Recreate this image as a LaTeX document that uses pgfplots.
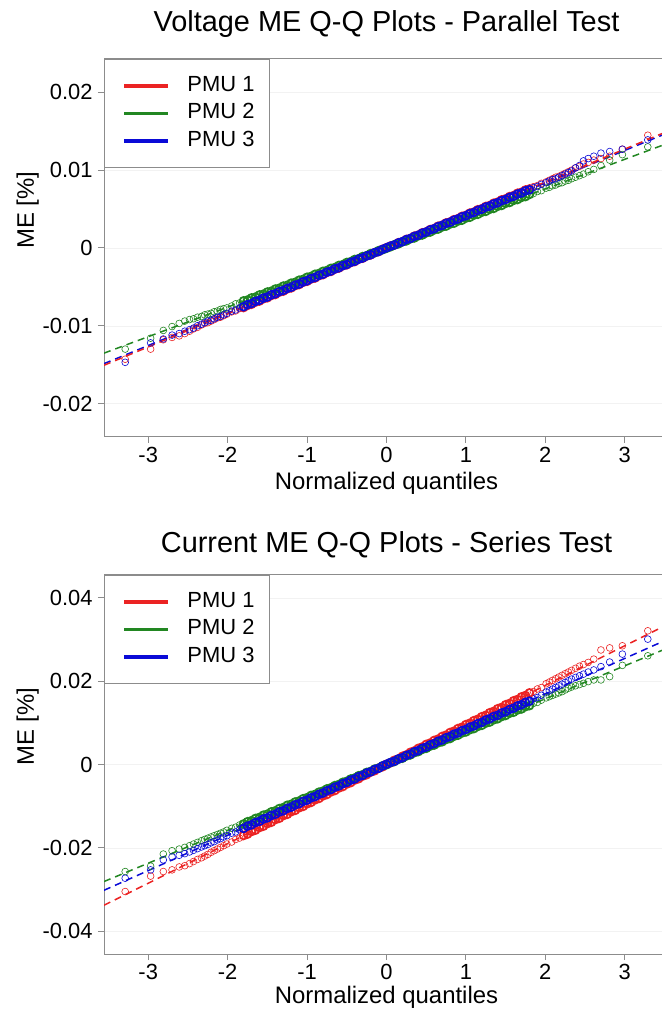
\documentclass[border=0pt]{standalone}
\usepackage{fontspec}
\setmainfont{Liberation Sans}
\usepackage{pgfplots}
\usepackage{pgfplotstable}
\pgfplotsset{compat=1.18}
\definecolor{pmuRed}{RGB}{235,35,35}
\definecolor{pmuGreen}{RGB}{34,135,34}
\definecolor{pmuBlue}{RGB}{10,10,215}
\definecolor{axgray}{RGB}{140,140,140}

% q  r1 g1 b1 (voltage, parallel)  r2 g2 b2 (current, series)
\pgfplotstableread{
q r1 g1 b1 r2 g2 b2
-3.29 -0.0143 -0.0130 -0.0147 -0.0305 -0.0257 -0.0273
-2.97 -0.0130 -0.0116 -0.0122 -0.0268 -0.0244 -0.0253
-2.81 -0.0118 -0.0106 -0.0117 -0.0257 -0.0215 -0.0229
-2.70 -0.0115 -0.0101 -0.0112 -0.0253 -0.0207 -0.0222
-2.61 -0.0113 -0.0097 -0.0110 -0.0246 -0.0203 -0.0218
-2.54 -0.0110 -0.0094 -0.0107 -0.0243 -0.0199 -0.0214
-2.48 -0.0107 -0.0092 -0.0105 -0.0238 -0.0195 -0.0210
-2.43 -0.0104 -0.0091 -0.0103 -0.0233 -0.0191 -0.0206
-2.38 -0.0102 -0.0089 -0.0100 -0.0228 -0.0187 -0.0202
-2.33 -0.0099 -0.0088 -0.0098 -0.0224 -0.0183 -0.0198
-2.29 -0.0097 -0.0086 -0.0096 -0.0220 -0.0180 -0.0195
-2.25 -0.0096 -0.0085 -0.0094 -0.0216 -0.0177 -0.0192
-2.21 -0.0094 -0.0084 -0.0093 -0.0211 -0.0174 -0.0188
-2.17 -0.0092 -0.0082 -0.0091 -0.0207 -0.0171 -0.0185
-2.13 -0.0090 -0.0081 -0.0089 -0.0203 -0.0168 -0.0181
-2.09 -0.0089 -0.0079 -0.0088 -0.0199 -0.0165 -0.0178
-2.05 -0.0087 -0.0078 -0.0086 -0.0195 -0.0162 -0.0174
-2.01 -0.0085 -0.0077 -0.0084 -0.0191 -0.0158 -0.0171
-1.95 -0.00822 -0.00746 -0.00812 -0.01862 -0.01532 -0.01648
-1.90 -0.00809 -0.00718 -0.00797 -0.01800 -0.01505 -0.01620
-1.85 -0.00780 -0.00706 -0.00770 -0.01766 -0.01452 -0.01565
-1.80 -0.00766 -0.00680 -0.00755 -0.01705 -0.01428 -0.01534
-1.75 -0.00738 -0.00669 -0.00729 -0.01671 -0.01374 -0.01480
-1.70 -0.00724 -0.00642 -0.00714 -0.01610 -0.01349 -0.01449
-1.65 -0.00696 -0.00631 -0.00687 -0.01576 -0.01295 -0.01395
-1.60 -0.00682 -0.00604 -0.00672 -0.01515 -0.01270 -0.01364
-1.55 -0.00653 -0.00593 -0.00645 -0.01481 -0.01216 -0.01310
-1.50 -0.00640 -0.00566 -0.00630 -0.01420 -0.01191 -0.01280
-1.45 -0.00611 -0.00555 -0.00603 -0.01386 -0.01137 -0.01225
-1.40 -0.00598 -0.00528 -0.00588 -0.01324 -0.01112 -0.01195
-1.35 -0.00568 -0.00517 -0.00561 -0.01291 -0.01058 -0.01140
-1.30 -0.00555 -0.00490 -0.00546 -0.01229 -0.01033 -0.01110
-1.25 -0.00526 -0.00479 -0.00520 -0.01196 -0.00979 -0.01055
-1.20 -0.00513 -0.00452 -0.00505 -0.01134 -0.00954 -0.01025
-1.15 -0.00484 -0.00441 -0.00478 -0.01101 -0.00900 -0.00970
-1.10 -0.00470 -0.00414 -0.00463 -0.01039 -0.00875 -0.00940
-1.05 -0.00441 -0.00403 -0.00436 -0.01006 -0.00821 -0.00885
-1.00 -0.00428 -0.00376 -0.00421 -0.00944 -0.00796 -0.00855
-0.95 -0.00399 -0.00365 -0.00394 -0.00910 -0.00743 -0.00801
-0.90 -0.00386 -0.00338 -0.00379 -0.00849 -0.00717 -0.00770
-0.85 -0.00356 -0.00327 -0.00352 -0.00815 -0.00664 -0.00716
-0.80 -0.00343 -0.00300 -0.00337 -0.00754 -0.00638 -0.00685
-0.75 -0.00314 -0.00289 -0.00311 -0.00720 -0.00585 -0.00631
-0.70 -0.00301 -0.00262 -0.00296 -0.00659 -0.00559 -0.00600
-0.65 -0.00272 -0.00251 -0.00269 -0.00625 -0.00506 -0.00546
-0.60 -0.00258 -0.00224 -0.00254 -0.00564 -0.00480 -0.00515
-0.55 -0.00229 -0.00213 -0.00227 -0.00530 -0.00427 -0.00461
-0.50 -0.00216 -0.00186 -0.00212 -0.00469 -0.00402 -0.00431
-0.45 -0.00187 -0.00175 -0.00185 -0.00435 -0.00348 -0.00376
-0.40 -0.00174 -0.00148 -0.00170 -0.00373 -0.00323 -0.00346
-0.35 -0.00144 -0.00137 -0.00143 -0.00340 -0.00269 -0.00291
-0.30 -0.00131 -0.00110 -0.00128 -0.00278 -0.00244 -0.00261
-0.25 -0.00102 -0.00099 -0.00102 -0.00245 -0.00190 -0.00206
-0.20 -0.00089 -0.00072 -0.00087 -0.00183 -0.00165 -0.00176
-0.15 -0.00060 -0.00061 -0.00060 -0.00150 -0.00111 -0.00121
-0.10 -0.00046 -0.00034 -0.00045 -0.00088 -0.00086 -0.00091
-0.05 -0.00017 -0.00023 -0.00018 -0.00055 -0.00032 -0.00036
0.00 0.00004 -0.00004 0.00003 0.00007 -0.00007 0.00006
0.05 0.00025 0.00015 0.00024 0.00041 0.00046 0.00048
0.10 0.00038 0.00042 0.00039 0.00102 0.00072 0.00079
0.15 0.00068 0.00053 0.00066 0.00136 0.00125 0.00133
0.20 0.00081 0.00080 0.00081 0.00197 0.00151 0.00164
0.25 0.00110 0.00091 0.00108 0.00231 0.00204 0.00218
0.30 0.00123 0.00118 0.00122 0.00292 0.00230 0.00249
0.35 0.00152 0.00129 0.00149 0.00326 0.00283 0.00303
0.40 0.00166 0.00156 0.00164 0.00387 0.00309 0.00334
0.45 0.00195 0.00167 0.00191 0.00421 0.00362 0.00388
0.50 0.00208 0.00194 0.00206 0.00483 0.00388 0.00419
0.55 0.00237 0.00205 0.00233 0.00516 0.00441 0.00473
0.60 0.00250 0.00232 0.00248 0.00578 0.00466 0.00503
0.65 0.00280 0.00243 0.00275 0.00611 0.00520 0.00558
0.70 0.00293 0.00270 0.00290 0.00673 0.00545 0.00588
0.75 0.00322 0.00281 0.00317 0.00706 0.00599 0.00643
0.80 0.00335 0.00308 0.00331 0.00768 0.00624 0.00673
0.85 0.00364 0.00319 0.00358 0.00801 0.00678 0.00728
0.90 0.00378 0.00346 0.00373 0.00863 0.00703 0.00758
0.95 0.00407 0.00357 0.00400 0.00896 0.00757 0.00813
1.00 0.00420 0.00384 0.00415 0.00958 0.00782 0.00843
1.05 0.00449 0.00395 0.00442 0.00992 0.00835 0.00897
1.10 0.00462 0.00422 0.00457 0.01053 0.00861 0.00928
1.15 0.00492 0.00433 0.00484 0.01087 0.00914 0.00982
1.20 0.00505 0.00460 0.00499 0.01148 0.00940 0.01013
1.25 0.00534 0.00471 0.00526 0.01182 0.00993 0.01067
1.30 0.00547 0.00498 0.00540 0.01243 0.01019 0.01098
1.35 0.00576 0.00509 0.00567 0.01277 0.01072 0.01152
1.40 0.00590 0.00536 0.00582 0.01339 0.01098 0.01183
1.45 0.00619 0.00547 0.00609 0.01372 0.01151 0.01237
1.50 0.00632 0.00574 0.00624 0.01434 0.01177 0.01268
1.55 0.00661 0.00585 0.00651 0.01467 0.01230 0.01322
1.60 0.00674 0.00612 0.00666 0.01529 0.01255 0.01353
1.65 0.00704 0.00623 0.00693 0.01562 0.01309 0.01407
1.70 0.00717 0.00650 0.00708 0.01624 0.01334 0.01437
1.75 0.00746 0.00661 0.00735 0.01657 0.01388 0.01492
1.80 0.00759 0.00688 0.00749 0.01719 0.01413 0.01522
1.85 0.00788 0.00699 0.00776 0.01752 0.01467 0.01577
1.90 0.00802 0.00726 0.00791 0.01814 0.01492 0.01607
1.95 0.00831 0.00737 0.00818 0.01847 0.01546 0.01662
2.01 0.0085 0.0077 0.0084 0.0194 0.0160 0.0174
2.05 0.0087 0.0078 0.0086 0.0198 0.0163 0.0177
2.09 0.0089 0.0080 0.0088 0.0202 0.0166 0.0181
2.13 0.0091 0.0081 0.0089 0.0206 0.0169 0.0185
2.17 0.0092 0.0083 0.0091 0.0210 0.0172 0.0189
2.21 0.0094 0.0084 0.0093 0.0214 0.0175 0.0193
2.25 0.0096 0.0086 0.0095 0.0218 0.0179 0.0197
2.29 0.0098 0.0087 0.0097 0.0222 0.0183 0.0201
2.33 0.0100 0.0089 0.0099 0.0226 0.0186 0.0205
2.38 0.0103 0.0091 0.0103 0.0231 0.0189 0.0209
2.43 0.0105 0.0093 0.0106 0.0236 0.0192 0.0213
2.48 0.0108 0.0095 0.0112 0.0240 0.0195 0.0217
2.54 0.0110 0.0098 0.0115 0.0245 0.0199 0.0222
2.61 0.0113 0.0101 0.0118 0.0253 0.0203 0.0227
2.70 0.0115 0.0106 0.0122 0.0275 0.0203 0.0235
2.81 0.0118 0.0113 0.0124 0.0280 0.0211 0.0246
2.97 0.0127 0.0120 0.0127 0.0285 0.0238 0.0265
3.29 0.0145 0.0130 0.0139 0.0321 0.0261 0.0301
}\qqdata

\pgfplotsset{
  qqaxis/.style={
    scale only axis, width=565bp, anchor=south west,
    xmin=-3.557, xmax=3.557,
    scaled y ticks=false, scaled x ticks=false,
    axis line style={axgray, line width=1pt},
    every tick/.style={axgray, line width=1pt},
    tick align=outside, major tick length=6bp,
    xtick pos=left, ytick pos=left,
    xtick={-3,-2,-1,0,1,2,3}, xticklabels={-3,-2,-1,0,1,2,3},
    ymajorgrids, grid style={black!5, line width=0.5pt},
    tick label style={font=\fontsize{22}{25}\selectfont},
    xticklabel style={yshift=-1bp},
    yticklabel style={xshift=-2bp},
    xlabel={Normalized quantiles},
    xlabel style={font=\fontsize{24}{28}\selectfont, at={(axis description cs:0.5,0)}, anchor=base},
    title style={font=\fontsize{29}{33}\selectfont, at={(axis description cs:0.5,1)}, anchor=base},
    ylabel={ME [\%]},
    ylabel style={font=\fontsize{24}{28}\selectfont, at={(axis description cs:-0.1239,0.6)}, anchor=base},
    legend style={at={(axis description cs:0,1)}, anchor=north west, draw=axgray, line width=1pt, fill=white,
      font=\fontsize{22}{25}\selectfont, inner xsep=12bp, inner ysep=13bp, row sep=0.5bp,
      nodes={inner sep=3bp, text height=16bp, text depth=5bp}, cells={anchor=west}},
    legend image code/.code={\path (-8bp,0bp); \fill[#1] (0bp,-1.2bp) rectangle (43bp,1.2bp); \path (59bp,0bp);},
    pts/.style={only marks, mark=o, mark size=3.4bp, mark options={line width=0.6bp}, forget plot},
    ptsmid/.style={only marks, mark=o, mark size=4.0bp, mark options={line width=1.6bp}, forget plot,
      restrict x to domain=-1.8:1.8},
    fit/.style={no marks, line width=1.5bp, dash pattern=on 7bp off 5bp, forget plot},
  }
}

\begin{document}
\begin{tikzpicture}
\path[use as bounding box] (0,0) rectangle (662bp,1010bp);
\clip (0,0) rectangle (662bp,1010bp);

% ---------- top: voltage ----------
\begin{axis}[qqaxis, at={(104bp,573bp)}, height=378bp,
  ymin=-0.0243, ymax=0.0243,
  ytick={-0.02,-0.01,0,0.01,0.02}, yticklabels={-0.02,-0.01,0,0.01,0.02},
  title={Voltage ME Q-Q Plots - Parallel Test},
  title style={yshift=22bp}, xlabel style={yshift=-53bp}]
\addlegendimage{pmuRed}\addlegendentry{PMU 1}
\addlegendimage{pmuGreen}\addlegendentry{PMU 2}
\addlegendimage{pmuBlue}\addlegendentry{PMU 3}
\addplot[pts, pmuRed] table[x=q, y=r1] {\qqdata};
\addplot[pts, pmuGreen] table[x=q, y=g1] {\qqdata};
\addplot[pts, pmuBlue] table[x=q, y=b1] {\qqdata};
\addplot[ptsmid, pmuRed] table[x=q, y=r1] {\qqdata};
\addplot[ptsmid, pmuGreen] table[x=q, y=g1] {\qqdata};
\addplot[ptsmid, pmuBlue] table[x=q, y=b1] {\qqdata};
\addplot[fit, pmuGreen] coordinates {(-3.557,-0.01352) (3.557,0.01352)};
\addplot[fit, pmuBlue] coordinates {(-3.557,-0.01487) (3.557,0.01487)};
\addplot[fit, pmuRed] coordinates {(-3.557,-0.01508) (3.557,0.01508)};
\end{axis}

% ---------- bottom: current ----------
\begin{axis}[qqaxis, at={(104bp,56bp)}, height=379bp,
  ymin=-0.0455, ymax=0.0455,
  ytick={-0.04,-0.02,0,0.02,0.04}, yticklabels={-0.04,-0.02,0,0.02,0.04},
  title={Current ME Q-Q Plots - Series Test},
  title style={yshift=17bp}, xlabel style={yshift=-49bp}]
\addlegendimage{pmuRed}\addlegendentry{PMU 1}
\addlegendimage{pmuGreen}\addlegendentry{PMU 2}
\addlegendimage{pmuBlue}\addlegendentry{PMU 3}
\addplot[pts, pmuRed] table[x=q, y=r2] {\qqdata};
\addplot[pts, pmuGreen] table[x=q, y=g2] {\qqdata};
\addplot[pts, pmuBlue] table[x=q, y=b2] {\qqdata};
\addplot[ptsmid, pmuRed] table[x=q, y=r2] {\qqdata};
\addplot[ptsmid, pmuGreen] table[x=q, y=g2] {\qqdata};
\addplot[ptsmid, pmuBlue] table[x=q, y=b2] {\qqdata};
\addplot[fit, pmuGreen] coordinates {(-3.557,-0.0281) (3.557,0.0281)};
\addplot[fit, pmuBlue] coordinates {(-3.557,-0.0302) (3.557,0.0302)};
\addplot[fit, pmuRed] coordinates {(-3.557,-0.0338) (3.557,0.0338)};
\end{axis}
\end{tikzpicture}
\end{document}
